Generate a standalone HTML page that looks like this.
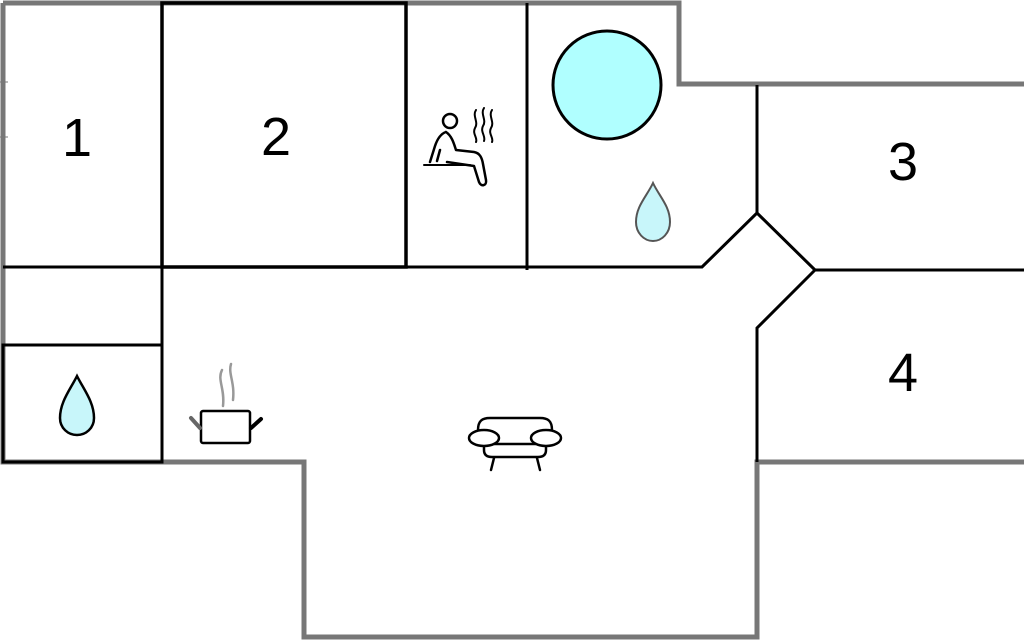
<!DOCTYPE html>
<html><head><style>html,body{margin:0;padding:0;background:#fff;width:1024px;height:641px;overflow:hidden}</style></head>
<body>
<svg width="1024" height="641" viewBox="0 0 1024 641" xmlns="http://www.w3.org/2000/svg">
<rect width="1024" height="641" fill="#fff"/>
<path d="M3,3 H679 V84 H1030 M1030,462 H757 V637 H304 V462 H3 V3" fill="none" stroke="#777" stroke-width="5"/>
<path d="M0,82 H8 M0,137 H8" stroke="#777" stroke-width="1"/>
<g fill="none" stroke="#000" stroke-width="3">
<rect x="162" y="3" width="244" height="264" stroke-width="3.5"/>
<path d="M162,3 V462"/>
<path d="M527,3 V270"/>
<path d="M3,267 H702 L757,213 V85"/>
<path d="M757,213 L815,270 H1026"/>
<path d="M815,270 L757,328 V462"/>
<rect x="3" y="345" width="159" height="117"/>
</g>
<g font-family="Liberation Sans, sans-serif" font-size="54" text-anchor="middle" fill="#000">
<text x="77" y="156">1</text>
<text x="276" y="155">2</text>
<text x="903" y="180">3</text>
<text x="903" y="391">4</text>
</g>
<circle cx="607" cy="85" r="54" fill="#b0ffff" stroke="#000" stroke-width="3"/>
<path d="M77,376 C70,390 60,402 60,418 C60,428 68,435 77,435 C86,435 94,428 94,418 C94,402 84,390 77,376 Z" fill="#c8f6fa" stroke="#000" stroke-width="2.5"/>
<path d="M653,183 C647,196 636,206 636,222 C636,233 644,241 653,241 C662,241 670,233 670,222 C670,206 659,196 653,183 Z" fill="#c8f6fa" stroke="#555" stroke-width="2"/>
<g fill="none" stroke="#000" stroke-width="2.5" stroke-linecap="round" stroke-linejoin="round">
<circle cx="450" cy="121" r="7"/>
<path d="M446,132 C440,134 437,140 435,146 L430,162 M440,150 L437,161 M446,132 C452,136 454,144 456,150 L474,152 C480,153 482,158 483,164 L486,180 C487,186 481,187 479,182 L474,166 L447,162"/>
<path d="M424,165 H470" stroke-width="2"/>
<path d="M476,110 C472,116 479,122 475,128 C472,134 478,138 476,142 M484,108 C480,114 487,120 483,126 C480,132 486,136 484,141 M492,110 C488,116 495,122 491,128 C488,134 494,138 492,142" stroke-width="2"/>
</g>
<g fill="none" stroke-linecap="round">
<rect x="201" y="411" width="49" height="32" rx="2" stroke="#000" stroke-width="2.5" fill="#fff"/>
<path d="M191,418 L200,428" stroke="#666" stroke-width="4"/>
<path d="M251,428 L261,419" stroke="#000" stroke-width="4"/>
<path d="M222,370 C217,380 225,388 223,406 M231,364 C228,374 235,382 233,400" stroke="#999" stroke-width="2.5"/>
</g>
<g fill="none" stroke="#000" stroke-width="2.5" stroke-linecap="round">
<path d="M478,430 C478,421 482,418 490,418 H540 C548,418 552,421 552,430"/>
<path d="M484,446 V450 C484,455 487,457 492,457 H538 C543,457 546,455 546,450 V446"/>
<path d="M491,444 H539"/>
<ellipse cx="484" cy="438" rx="15" ry="8" fill="#fff"/>
<ellipse cx="546" cy="438" rx="15" ry="8" fill="#fff"/>
<path d="M494,458 L491,470 M537,458 L540,470"/>
</g>
</svg>
</body></html>
